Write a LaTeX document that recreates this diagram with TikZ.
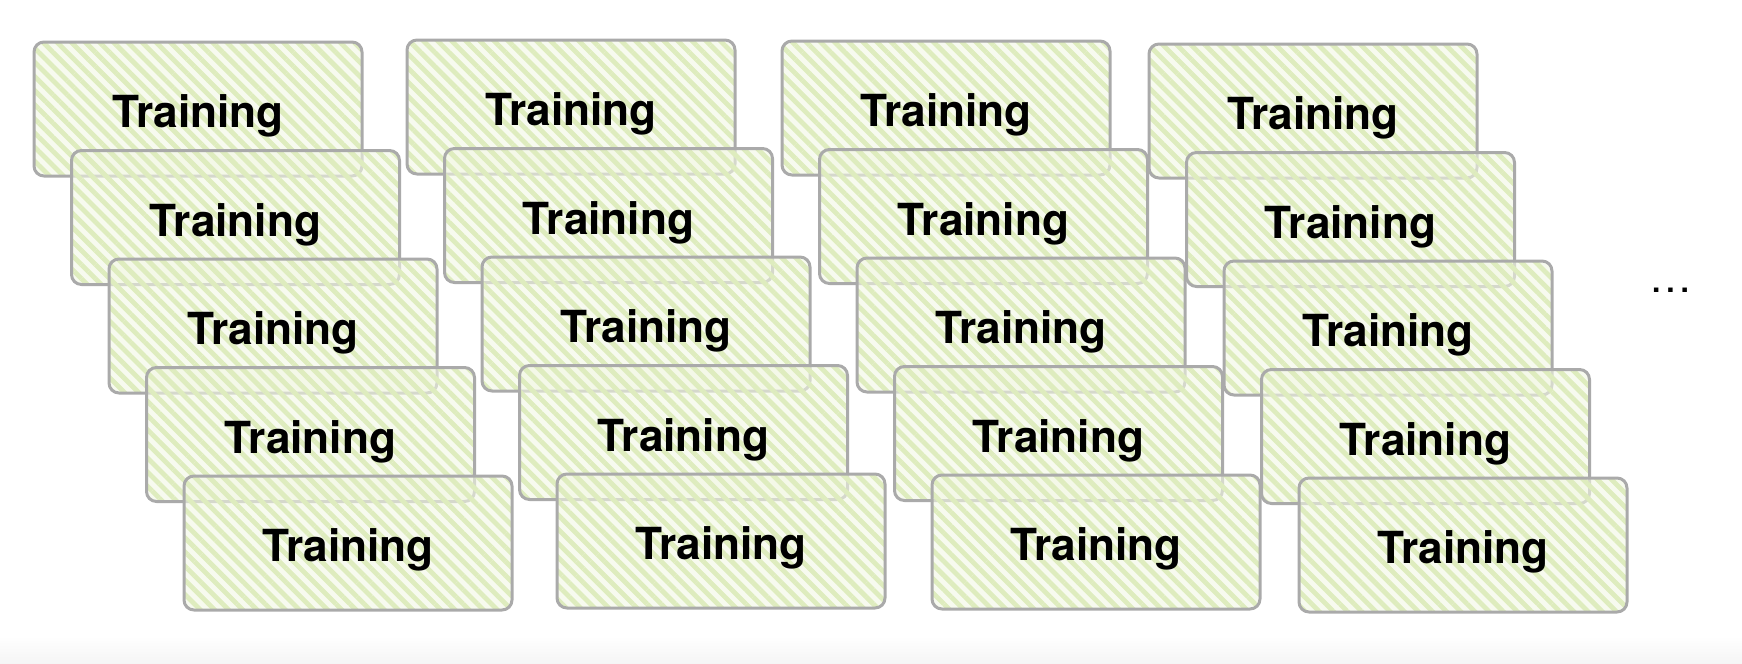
\documentclass[tikz,border=0pt]{standalone}
\usepackage{fontspec}
\setmainfont{TeX Gyre Heros}
\usetikzlibrary{patterns.meta}
\definecolor{boxgray}{RGB}{170,170,170}
\definecolor{boxfill}{RGB}{242,247,228}
\definecolor{stripegreen}{RGB}{222,236,190}
\tikzset{
  trainbox/.style={draw=boxgray, line width=1.5pt, rounded corners=5pt,
    minimum width=164pt, minimum height=67pt, inner sep=0pt,
    preaction={fill=boxfill},
    pattern={Lines[angle=-45, distance=5pt, line width=2.4pt]},
    pattern color=stripegreen, fill opacity=0.6, text opacity=1,
    font=\fontsize{22.1}{26}\selectfont\bfseries,
    text height=18.9pt, text depth=0pt},
}

\begin{document}
\begin{tikzpicture}[x=0.5pt, y=-0.5pt]
    \useasboundingbox (0,0) rectangle (1742,664);
    \shade[top color=white, bottom color=black!4] (0,636) rectangle (1742,664);

    % four columns of stacked training runs
    \foreach \c/\xx/\yy in {0/33/41, 1/406/39, 2/781/40, 3/1148/43}
    {\foreach \r in {0,...,4}
      \node[trainbox] (tr\c\r) at (\xx+165+37.5*\r, \yy+68+108.5*\r) {Training};
    }

    \node[font=\fontsize{21.4}{25}\selectfont] (more) at (1671,290) {\ldots};
\end{tikzpicture}
\end{document}
